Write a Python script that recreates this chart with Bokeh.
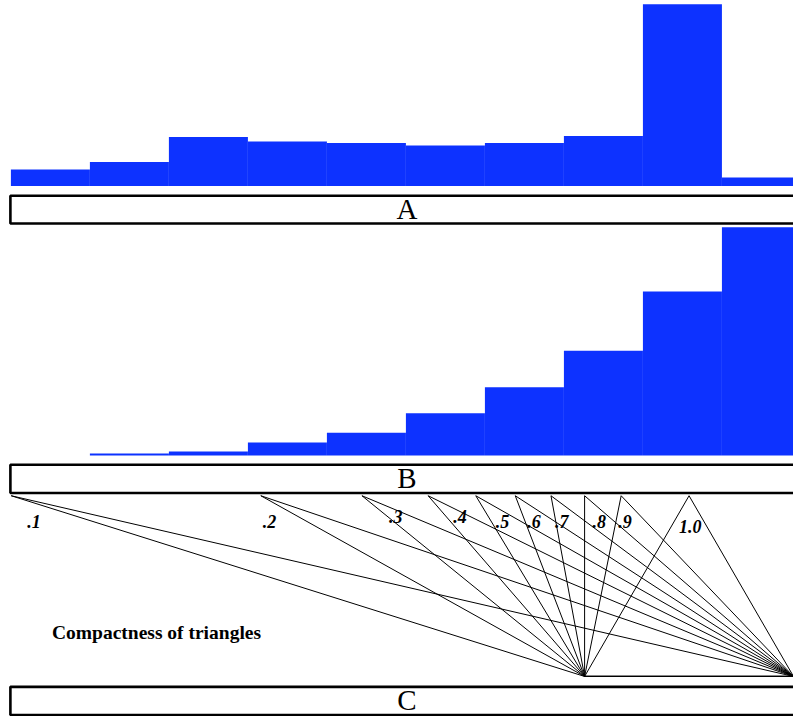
import math
from bokeh.plotting import figure
from bokeh.models import Range1d, ColumnDataSource
from bokeh.core.properties import value
from bokeh.embed import file_html
from bokeh.resources import INLINE

# ---------------- data ----------------
bin_left = [0, 1, 2, 3, 4, 5, 6, 7, 8, 9]
bin_right = [1, 2, 3, 4, 5, 6, 7, 8, 9, 10]
hist_a = [3.3, 4.8, 9.8, 8.9, 8.6, 8.1, 8.6, 10.0, 36.3, 1.7]
hist_b = [0.0, 0.3, 0.6, 2.0, 3.5, 6.5, 10.5, 16.1, 25.2, 35.1]
panel_labels = ["A", "B", "C"]

compactness = [".1", ".2", ".3", ".4", ".5", ".6", ".7", ".8", ".9", "1.0"]
apex_x = [-2.745, -1.550, -1.066, -0.749, -0.521, -0.332, -0.161, 0.0, 0.175, 0.50]
apex_height = math.sqrt(3) / 2
base_x = [0.0, 1.0]
title_c = "Compactness of triangles"

# ---------------- layout ----------------
W, H = 793, 716          # figure size in screen pixels
RW, RH = 801, 724        # layout grid (reference pixels) mapped onto the figure
BLUE = "#0d32ff"


def xr(ref_zero, k):
    return Range1d((0 - ref_zero) / k, (RW - ref_zero) / k)


def yr(ref_base, k):
    return Range1d(-(RH - ref_base) / k, ref_base / k)


p = figure(width=W, height=H, output_backend="svg", toolbar_location=None,
           x_range=Range1d(0, RW), y_range=Range1d(RH, 0),
           x_axis_type=None, y_axis_type=None, min_border=0)
p.outline_line_color = None
p.grid.visible = False
p.background_fill_color = "white"

p.extra_x_ranges = {"bins": xr(10.5, 79.8), "tri": xr(590, 211)}
p.extra_y_ranges = {"hA": yr(187.5, 5.06), "hB": yr(460, 6.576), "tri": yr(683.5, 211)}

# histograms
p.quad(left=bin_left, right=bin_right, bottom=0, top=hist_a,
       x_range_name="bins", y_range_name="hA",
       fill_color=BLUE, line_color=None)
p.quad(left=bin_left, right=bin_right, bottom=0, top=hist_b,
       x_range_name="bins", y_range_name="hB",
       fill_color=BLUE, line_color=None)

# label boxes
box_top = [197.5, 469.5, 694.0]
box_bot = [225.5, 498.0, 722.5]
p.quad(left=10, right=815, top=box_top, bottom=box_bot,
       fill_color=None, line_color="black", line_width=2.6)
p.text(x=[410.5] * 3, y=[b - 4.2 for b in box_bot], text=panel_labels,
       y_offset=-10.5,
       text_font=value("Liberation Serif"), text_font_size="29px",
       text_align="center", text_baseline="alphabetic", text_color="black")

# triangles
xs = [[a, base_x[0], base_x[1]] for a in apex_x]
ys = [[apex_height, 0.0, 0.0] for _ in apex_x]
p.patches(xs=xs, ys=ys, x_range_name="tri", y_range_name="tri",
          fill_color=None, line_color="black", line_width=1)

label_dx = [16, 2, 27, 25, 20, 12, 4, 8, -3, -10]
label_dy = [26, 26, 21, 21, 26, 26, 26, 26, 26, 31]
src = ColumnDataSource(dict(x=apex_x, y=[apex_height] * len(apex_x),
                            t=compactness, dx=label_dx, dy=label_dy))
p.text(x="x", y="y", text="t", x_offset="dx", y_offset="dy", source=src,
       x_range_name="tri", y_range_name="tri",
       text_font=value("Liberation Serif"), text_font_style="bold italic",
       text_font_size="18px", text_align="left", text_baseline="alphabetic",
       text_color="black")

p.text(x=[52], y=[639], text=[title_c],
       text_font=value("Liberation Serif"), text_font_style="bold",
       text_font_size="19.5px", text_align="left", text_baseline="alphabetic",
       text_color="black")

open("out.html", "w").write(file_html(p, INLINE))
